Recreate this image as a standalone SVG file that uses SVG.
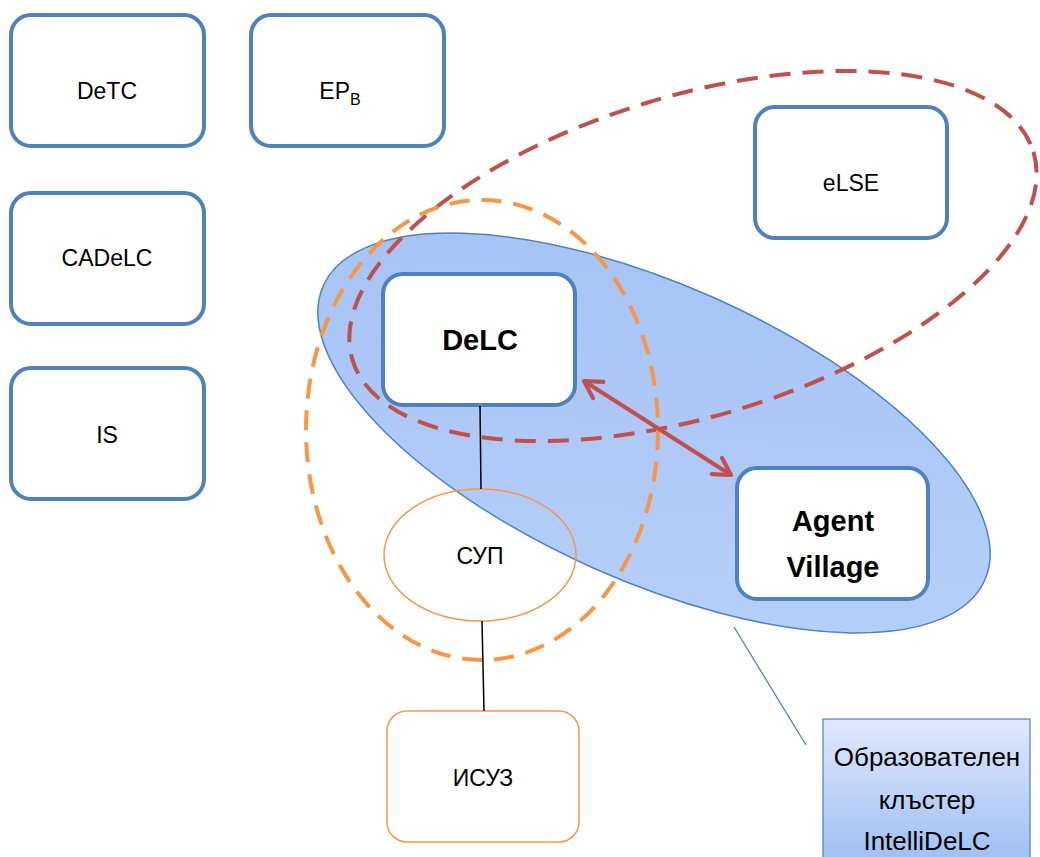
<svg xmlns="http://www.w3.org/2000/svg" width="1040" height="857" viewBox="0 0 1040 857">
<style>
  .box{fill:#fff;stroke:#4F81BD;stroke-width:4}
  .obox{fill:#fff;stroke:#F79646;stroke-width:1.5}
  .t{font-family:"Liberation Sans",Arial,sans-serif;font-size:23px;fill:#000;text-anchor:middle}
  .tb{font-family:"Liberation Sans",Arial,sans-serif;font-size:29px;font-weight:bold;fill:#000;text-anchor:middle}
  .red{fill:none;stroke:#C0504D;stroke-width:4;stroke-dasharray:21 12}
  .ora{fill:none;stroke:#F79646;stroke-width:4;stroke-dasharray:20 12}
  .blk{stroke:#000;stroke-width:1.5;fill:none}
  .ct{font-family:"Liberation Sans",Arial,sans-serif;font-size:26px;fill:#000;text-anchor:middle}
</style>
<defs>
  <linearGradient id="gBlue" x1="0" y1="0" x2="1" y2="1">
    <stop offset="0" stop-color="#a3c1f5"/>
    <stop offset="1" stop-color="#b9d1fa"/>
  </linearGradient>
  <linearGradient id="gCall" x1="0" y1="0" x2="0" y2="1">
    <stop offset="0" stop-color="#dfe9fb"/>
    <stop offset="1" stop-color="#9ebef3"/>
  </linearGradient>
  <marker id="ah" viewBox="0 0 20 20" refX="17" refY="10" markerWidth="6" markerHeight="6" orient="auto-start-reverse" markerUnits="strokeWidth">
    <path d="M3,2 L17,10 L3,18" fill="none" stroke="#C0504D" stroke-width="3.5" stroke-linecap="round" stroke-linejoin="round"/>
  </marker>
</defs>

<g id="cluster">
  <ellipse cx="654" cy="433" rx="362" ry="148" transform="rotate(24 654 433)" fill="url(#gBlue)" stroke="#4F81BD" stroke-width="1.5"/>
</g>

<g id="node-DeTC"><rect class="box" x="11" y="15" width="193" height="131" rx="20"/><text class="t" x="107" y="99">DeTC</text></g>
<g id="node-EPB"><rect class="box" x="251" y="15" width="193" height="131" rx="20"/><text class="t" x="340" y="99">EP<tspan font-size="16" dy="6">B</tspan></text></g>
<g id="node-CADeLC"><rect class="box" x="11" y="193" width="193" height="131" rx="20"/><text class="t" x="107" y="266">CADeLC</text></g>
<g id="node-IS"><rect class="box" x="11" y="368" width="193" height="131" rx="20"/><text class="t" x="107" y="443">IS</text></g>
<g id="node-eLSE"><rect class="box" x="755" y="107" width="192" height="131" rx="20"/><text class="t" x="851" y="191">eLSE</text></g>
<g id="node-DeLC"><rect class="box" x="383" y="274" width="192" height="131" rx="20"/><text class="tb" x="480" y="350">DeLC</text></g>
<g id="node-AgentVillage"><rect class="box" x="737" y="468" width="191" height="131" rx="20"/><text class="tb" x="833" y="531">Agent</text><text class="tb" x="833" y="577">Village</text></g>
<g id="node-SUP"><ellipse cx="480" cy="555" rx="96" ry="66" fill="none" stroke="#F79646" stroke-width="1.5"/><text class="t" x="480" y="564">СУП</text></g>
<g id="node-ISUZ"><rect class="obox" x="387" y="711" width="192" height="131" rx="20"/><text class="t" x="483" y="786">ИСУЗ</text></g>

<g id="groups">
  <ellipse class="red" cx="693" cy="256" rx="356" ry="160" transform="rotate(-17 693 256)"/>
  <ellipse class="ora" cx="482" cy="430" rx="176" ry="230"/>
</g>

<g id="connectors">
  <line class="blk" x1="480" y1="406" x2="481" y2="489"/>
  <line class="blk" x1="482" y1="621" x2="484" y2="711"/>
  <line x1="584" y1="381" x2="731" y2="475" stroke="#C0504D" stroke-width="4" marker-start="url(#ah)" marker-end="url(#ah)"/>
  <line x1="734" y1="627" x2="806" y2="745" stroke="#4F81BD" stroke-width="1.3"/>
</g>

<g id="callout">
  <rect x="823" y="719" width="207" height="145" fill="url(#gCall)" stroke="#4F81BD" stroke-width="1.2"/>
  <text class="ct" x="927" y="766">Образователен</text>
  <text class="ct" x="927" y="809">клъстер</text>
  <text class="ct" x="927" y="850">IntelliDeLC</text>
</g>
</svg>
